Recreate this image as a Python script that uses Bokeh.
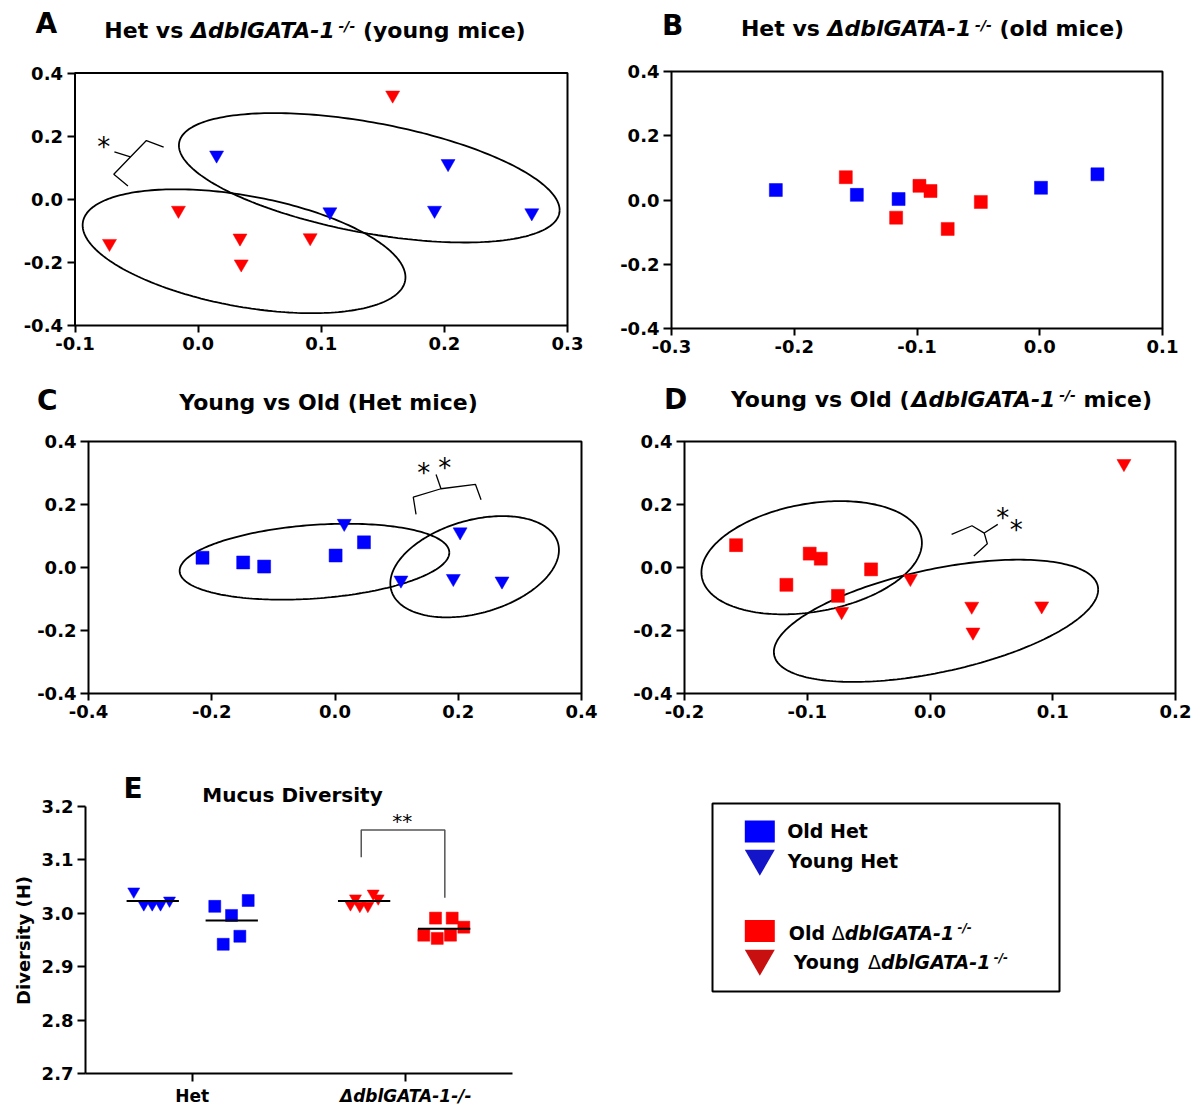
import numpy as np
from bokeh.plotting import figure
from bokeh.layouts import column, row
from bokeh.models import Label, FixedTicker, PrintfTickFormatter, LinearAxis
from bokeh.embed import file_html
from bokeh.resources import INLINE

FONT = "DejaVu Sans"
BLUE = "#0000FF"
RED = "#FF0000"
BLUE_DK = "#1414C8"
RED_DK = "#C81010"

# ---------------- data ----------------
young_het_x = [0.015, 0.203, 0.107, 0.192, 0.271]
young_het_y = [0.140, 0.113, -0.040, -0.035, -0.043]
young_ko_x = [-0.072, -0.016, 0.034, 0.035, 0.091, 0.158]
young_ko_y = [-0.140, -0.035, -0.123, -0.205, -0.122, 0.330]
old_het_x = [-0.215, -0.149, -0.115, 0.001, 0.047]
old_het_y = [0.031, 0.016, 0.003, 0.038, 0.080]
old_ko_x = [-0.158, -0.098, -0.089, -0.117, -0.075, -0.048]
old_ko_y = [0.071, 0.044, 0.028, -0.055, -0.090, -0.006]

# Panel E: Shannon diversity (H)
div_het_young = [3.041, 3.017, 3.017, 3.017, 3.024]
div_het_old = [3.013, 2.942, 2.996, 2.957, 3.024]
div_ko_young = [3.017, 3.028, 3.014, 3.014, 3.037, 3.028]
div_ko_old = [2.959, 2.991, 2.953, 2.959, 2.991, 2.974]
categories = ["Het", "\u0394dblGATA-1-/-"]
spread_het_young = [-0.178, -0.084, -0.005, 0.073, 0.157]
spread_het_old = [-0.159, -0.080, -0.002, 0.076, 0.154]
spread_ko_young = [-0.128, -0.081, -0.040, 0.035, 0.085, 0.132]
spread_ko_old = [-0.191, -0.081, -0.065, 0.059, 0.075, 0.184]
group_pos = [0.63, 1.37, 2.61, 3.36]

# ellipses: (centre x, centre y, half x-extent, half y-extent, correlation)
ell_A = [(0.139, 0.068, 0.1546, 0.205, -0.50), (0.0373, -0.1647, 0.1311, 0.1963, -0.42)]
ell_C = [(-0.0333, 0.0184, 0.2188, 0.1205, 0.24), (0.2266, 0.0025, 0.1368, 0.1607, 0.33)]
ell_D = [(-0.0964, 0.0311, 0.0898, 0.1797, 0.26), (0.0049, -0.1692, 0.1321, 0.194, 0.51)]

brace_A = ([-0.028, -0.042, -0.055, -0.0685, -0.057], [0.165, 0.186, 0.134, 0.079, 0.042])
nub_A = ([-0.055, -0.068], [0.134, 0.150])
star_A = [(-0.0766, 0.179)]
brace_C = ([0.1315, 0.127, 0.172, 0.228, 0.237], [0.1685, 0.2235, 0.250, 0.2636, 0.215])
nub_C = ([0.172, 0.164], [0.250, 0.295])
star_C = [(0.144, 0.313), (0.178, 0.329)]
brace_D = ([0.0176, 0.0342, 0.0442, 0.0467, 0.0357], [0.105, 0.1326, 0.1093, 0.0755, 0.0364])
nub_D = ([0.0442, 0.0552], [0.1093, 0.1368])
star_D = [(0.0592, 0.1685), (0.0702, 0.130)]
bracket_E = ([2.583, 2.583, 3.366, 3.366], [3.105, 3.156, 3.156, 3.029])
star_E = (2.967, 3.178)

# ---------------- helpers ----------------
W = {' ': 0.348, 'H': 0.837, 'e': 0.678, 't': 0.478, 'v': 0.652, 's': 0.595, '\u0394': 0.774,
     'd': 0.716, 'b': 0.716, 'l': 0.343, 'G': 0.821, 'A': 0.774, 'T': 0.682, '-': 0.415,
     '1': 0.696, '/': 0.365, '(': 0.457, ')': 0.457, 'y': 0.652, 'o': 0.687, 'u': 0.712,
     'n': 0.712, 'g': 0.716, 'm': 1.042, 'i': 0.343, 'c': 0.593, 'Y': 0.724, 'O': 0.850,
     'D': 0.830, 'r': 0.493, 'M': 0.995, 'E': 0.683, 'B': 0.762, 'C': 0.734, '*': 0.5}
WN = {'\u0394': 0.684}


def twidth(t, style, fs):
    return sum((WN.get(ch, W.get(ch, 0.6)) if style == "normal" else W.get(ch, 0.6)) for ch in t) * fs


def make_panel(origin, size, box, xdom, ydom, axes=True):
    """Figure whose frame fills its whole canvas; box = page px of the data window."""
    ox, oy = origin
    width, height = size
    bl, br, bt, bb = box
    kx = (xdom[1] - xdom[0]) / (br - bl)
    ky = (ydom[1] - ydom[0]) / (bb - bt)
    xr = (xdom[0] - (bl - ox) * kx, xdom[1] + (ox + width - br) * kx)
    yr = (ydom[0] - (oy + height - bb) * ky, ydom[1] + (bt - oy) * ky)
    kw = dict(width=width, height=height, x_range=xr, y_range=yr,
              output_backend="svg", toolbar_location=None,
              min_border_left=0, min_border_right=0, min_border_top=0, min_border_bottom=0)
    if not axes:
        kw.update(x_axis_type=None, y_axis_type=None)
    p = figure(**kw)
    p.grid.visible = False
    p.outline_line_color = None
    p.background_fill_color = "white"
    p.border_fill_color = "white"
    if axes:
        p.xaxis.fixed_location = ydom[0]
        p.yaxis.fixed_location = xdom[0]
    mx = lambda rx: xdom[0] + (rx - bl) * kx
    my = lambda ry: ydom[0] + (bb - ry) * ky
    return p, mx, my


def style_axis(ax, out, size="18px", style="bold"):
    ax.axis_line_color = None
    ax.major_tick_line_width = 2
    ax.major_tick_line_color = "black"
    ax.major_tick_out = out
    ax.major_tick_in = 0
    ax.minor_tick_line_color = None
    ax.major_label_text_font = FONT
    ax.major_label_text_font_style = style
    ax.major_label_text_font_size = size
    ax.major_label_text_color = "black"
    ax.major_label_standoff = 4
    ax.formatter = PrintfTickFormatter(format="%.1f")


def style_axes(p, xticks, yticks, xout=7, yout=8):
    p.xaxis.ticker = FixedTicker(ticks=xticks)
    p.yaxis.ticker = FixedTicker(ticks=yticks)
    style_axis(p.xaxis[0], xout)
    style_axis(p.yaxis[0], yout)


def rich(p, mx, my, pieces, rx, ry, align="left"):
    """pieces: (text, style, size px, rise px); rx, ry: page px of start/centre and baseline"""
    total = sum(twidth(t, st, fs) for t, st, fs, r in pieces)
    x = rx - (total / 2 if align == "center" else 0)
    for t, st, fs, rise in pieces:
        lead = len(t) - len(t.lstrip(' '))
        txt = t.strip(' ')
        if txt:
            p.add_layout(Label(x=mx(x + twidth(' ' * lead, st, fs)), y=my(ry - rise),
                               y_offset=0.35 * fs, text=txt,
                               text_font=FONT, text_font_style=st,
                               text_font_size=f"{fs}px", text_color="black",
                               text_baseline="middle", text_align="left"))
        x += twidth(t, st, fs)


def add_star(p, x, y, text="*", fs=26):
    p.add_layout(Label(x=x, y=y, y_offset=-0.15 * fs, text=text, text_font=FONT,
                       text_font_size=f"{fs}px", text_align="center",
                       text_baseline="middle", text_color="black"))


def ellipse_xy(cx, cy, hx, vy, c, n=240):
    t = np.linspace(0, 2 * np.pi, n)
    s = np.sqrt(1 - c * c)
    return cx + hx * np.cos(t), cy + vy * (c * np.cos(t) + s * np.sin(t))


def add_ellipses(p, ells):
    for e in ells:
        ex, ey = ellipse_xy(*e)
        p.line(ex, ey, line_color="black", line_width=1.8)


def add_brace(p, brace, nub):
    p.line(brace[0], brace[1], line_color="black", line_width=1.3)
    p.line(nub[0], nub[1], line_color="black", line_width=1.3)


def add_box(p, xdom, ydom):
    p.quad(left=[xdom[0]], right=[xdom[1]], bottom=[ydom[0]], top=[ydom[1]],
           fill_color=None, line_color="black", line_width=2)


TS = 22
SUP = 14
RISE = 7
B = "bold"
BI = "bold italic"
YT = [-0.4, -0.2, 0.0, 0.2, 0.4]

# ---------------- Panel A ----------------
xA, yA = (-0.1, 0.3), (-0.4, 0.4)
pA, mxA, myA = make_panel((0, 0), (600, 370), (74.5, 567, 72.5, 325), xA, yA)
style_axes(pA, [-0.1, 0.0, 0.1, 0.2, 0.3], YT)
add_box(pA, xA, yA)
add_ellipses(pA, ell_A)
pA.scatter(young_ko_x, young_ko_y, marker="inverted_triangle", size=14, fill_color=RED, line_color=RED, line_width=0.5)
pA.scatter(young_het_x, young_het_y, marker="inverted_triangle", size=14, fill_color=BLUE, line_color=BLUE, line_width=0.5)
add_brace(pA, brace_A, nub_A)
for sx, sy in star_A:
    add_star(pA, sx, sy)
rich(pA, mxA, myA, [("A", B, 28, 0)], 35, 32.3)
rich(pA, mxA, myA, [("Het vs ", B, TS, 0), ("\u0394dblGATA-1", BI, TS, 0), ("-/-", BI, SUP, RISE),
                    (" (young mice)", B, TS, 0)], 314.5, 37.3, align="center")

# ---------------- Panel B ----------------
xB, yB = (-0.3, 0.1), (-0.4, 0.4)
pB, mxB, myB = make_panel((600, 0), (602, 370), (671, 1162, 71, 328), xB, yB)
style_axes(pB, [-0.3, -0.2, -0.1, 0.0, 0.1], YT)
add_box(pB, xB, yB)
pB.scatter(old_het_x, old_het_y, marker="square", size=13, fill_color=BLUE, line_color=BLUE, line_width=0.5)
pB.scatter(old_ko_x, old_ko_y, marker="square", size=13, fill_color=RED, line_color=RED, line_width=0.5)
rich(pB, mxB, myB, [("B", B, 28, 0)], 661.5, 35)
rich(pB, mxB, myB, [("Het vs ", B, TS, 0), ("\u0394dblGATA-1", BI, TS, 0), ("-/-", BI, SUP, RISE),
                    (" (old mice)", B, TS, 0)], 932, 36, align="center")

# ---------------- Panel C ----------------
xC, yC = (-0.4, 0.4), (-0.4, 0.4)
pC, mxC, myC = make_panel((0, 370), (600, 370), (88, 581, 441, 693), xC, yC)
style_axes(pC, [-0.4, -0.2, 0.0, 0.2, 0.4], YT)
add_box(pC, xC, yC)
add_ellipses(pC, ell_C)
pC.scatter(old_het_x, old_het_y, marker="square", size=13, fill_color=BLUE, line_color=BLUE, line_width=0.5)
pC.scatter(young_het_x, young_het_y, marker="inverted_triangle", size=14, fill_color=BLUE, line_color=BLUE, line_width=0.5)
add_brace(pC, brace_C, nub_C)
for sx, sy in star_C:
    add_star(pC, sx, sy)
rich(pC, mxC, myC, [("C", B, 28, 0)], 36.5, 410)
rich(pC, mxC, myC, [("Young vs Old (Het mice)", B, TS, 0)], 329, 410, align="center")

# ---------------- Panel D ----------------
xD, yD = (-0.2, 0.2), (-0.4, 0.4)
pD, mxD, myD = make_panel((600, 370), (602, 370), (684, 1175, 441, 693), xD, yD)
style_axes(pD, [-0.2, -0.1, 0.0, 0.1, 0.2], YT)
add_box(pD, xD, yD)
add_ellipses(pD, ell_D)
pD.scatter(old_ko_x, old_ko_y, marker="square", size=13, fill_color=RED, line_color=RED, line_width=0.5)
pD.scatter(young_ko_x, young_ko_y, marker="inverted_triangle", size=14, fill_color=RED, line_color=RED, line_width=0.5)
add_brace(pD, brace_D, nub_D)
for sx, sy in star_D:
    add_star(pD, sx, sy)
rich(pD, mxD, myD, [("D", B, 28, 0)], 663.5, 409)
rich(pD, mxD, myD, [("Young vs Old (", B, TS, 0), ("\u0394dblGATA-1", BI, TS, 0), ("-/-", BI, SUP, RISE),
                    (" mice)", B, TS, 0)], 941, 406.7, align="center")

# ---------------- Panel E ----------------
xE, yE = (0, 4), (2.7, 3.2)
pE, mxE, myE = make_panel((0, 740), (600, 366), (85, 512, 806, 1073), xE, yE)
style_axes(pE, [1], [2.7, 2.8, 2.9, 3.0, 3.1, 3.2], xout=8, yout=8)
pE.xaxis.major_label_overrides = {1: categories[0]}
pE.xaxis.major_label_text_font_size = "17px"
# second category label in bold italic on its own (overlapping, fixed) axis
axKO = LinearAxis(fixed_location=yE[0], ticker=FixedTicker(ticks=[3]))
style_axis(axKO, 8, size="17px", style="bold italic")
axKO.major_label_overrides = {3: categories[1]}
pE.add_layout(axKO, "below")
pE.line([xE[0], xE[0]], [yE[0], yE[1]], line_color="black", line_width=2)
pE.line([xE[0], xE[1]], [yE[0], yE[0]], line_color="black", line_width=2)
pE.add_layout(Label(x=mxE(23), y=myE(940), text="Diversity (H)", angle=np.pi / 2,
                    text_font=FONT, text_font_style="bold", text_font_size="18px",
                    text_align="center", text_baseline="middle", text_color="black"))

groups = [
    (div_het_young, spread_het_young, group_pos[0], "inverted_triangle", BLUE),
    (div_het_old, spread_het_old, group_pos[1], "square", BLUE),
    (div_ko_young, spread_ko_young, group_pos[2], "inverted_triangle", RED),
    (div_ko_old, spread_ko_old, group_pos[3], "square", RED),
]
for vals, spread, cx, mk, col in groups:
    xs = [cx + s for s in spread]
    pE.scatter(xs, vals, marker=mk, size=12, fill_color=col, line_color=col, line_width=0.5)
for vals, spread, cx, mk, col in groups:
    m = float(np.mean(vals))
    pE.segment(x0=[cx - 0.245], x1=[cx + 0.245], y0=[m], y1=[m], line_color="black", line_width=2)
pE.line(bracket_E[0], bracket_E[1], line_color="#555555", line_width=1.5)
add_star(pE, star_E[0], star_E[1], text="**", fs=20)
rich(pE, mxE, myE, [("E", B, 28, 0)], 123, 798)
rich(pE, mxE, myE, [("Mucus Diversity", B, 20, 0)], 292, 801, align="center")

# ---------------- Legend ----------------
xL, yL = (600, 1202), (0, 366)
pL, mxL, myL = make_panel((600, 740), (602, 366), (600, 1202, 740, 1106), xL, yL, axes=False)
pL.quad(left=[mxL(712)], right=[mxL(1059)], bottom=[myL(991)], top=[myL(803)],
        fill_color=None, line_color="black", line_width=2)
pL.rect([mxL(759.3)], [myL(831)], width=30, height=22, width_units="screen", height_units="screen",
        fill_color=BLUE, line_color=None)
pL.scatter([mxL(759.3)], [myL(858)], marker="inverted_triangle", size=30, fill_color=BLUE_DK, line_color=None)
pL.rect([mxL(759.3)], [myL(930.5)], width=30, height=22, width_units="screen", height_units="screen",
        fill_color=RED, line_color=None)
pL.scatter([mxL(759.3)], [myL(958)], marker="inverted_triangle", size=30, fill_color=RED_DK, line_color=None)
LS = 19
rich(pL, mxL, myL, [("Old Het", B, LS, 0)], 786.7, 836.7)
rich(pL, mxL, myL, [("Young Het", B, LS, 0)], 787.3, 866.7)
rich(pL, mxL, myL, [("Old ", B, LS, 0), ("\u0394", "normal", LS, 0), ("dblGATA-1", BI, LS, 0),
                    ("-/-", BI, 12, 7)], 788.3, 939)
rich(pL, mxL, myL, [("Young ", B, LS, 0), ("\u0394", "normal", LS, 0), ("dblGATA-1", BI, LS, 0),
                    ("-/-", BI, 12, 7)], 793.3, 968.3)

layout = column(row(pA, pB), row(pC, pD), row(pE, pL))
open("out.html", "w").write(file_html(layout, INLINE))
